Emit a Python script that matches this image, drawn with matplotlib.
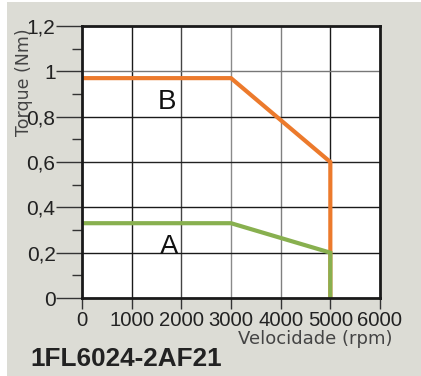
import matplotlib
matplotlib.use("Agg")
import matplotlib.pyplot as plt
from matplotlib.patches import Rectangle

# curve data
speed_b = [0, 3000, 5000, 5000]
torque_b = [0.97, 0.97, 0.6, 0.0]
speed_a = [0, 3000, 5000, 5000]
torque_a = [0.33, 0.33, 0.2, 0.0]

x_ticks = [0, 1000, 2000, 3000, 4000, 5000, 6000]
y_ticks = [0, 0.2, 0.4, 0.6, 0.8, 1.0, 1.2]
y_labels = ["0", "0,2", "0,4", "0,6", "0,8", "1", "1,2"]
y_minor = [0.1, 0.3, 0.5, 0.7, 0.9, 1.1]

orange = "#ec7a2c"
green = "#88b04f"
bg = "#dcdcd5"

fig = plt.figure(figsize=(4.21, 3.76), dpi=100, facecolor="white")
fig.patches.append(Rectangle((7 / 421, 0), 1, 1 - 2 / 376, transform=fig.transFigure,
                             facecolor=bg, edgecolor="none", zorder=-5))

ax = fig.add_axes([82 / 421, 1 - 298 / 376, 298 / 421, 272 / 376])
ax.set_zorder(2)
ax.set_facecolor("white")
ax.set_xlim(0, 6000)
ax.set_ylim(0, 1.2)

# grid lines, the picture mixes black and grey ones
vcols = {1000: "#1a1a1a", 2000: "#444444", 3000: "#8a8a8a", 4000: "#808080", 5000: "#1a1a1a"}
for xv, c in vcols.items():
    ax.axvline(xv, color=c, lw=1.0, zorder=1)
hcols = {0.2: "#1a1a1a", 0.4: "#1a1a1a", 0.6: "#222222", 0.8: "#1a1a1a", 1.0: "#777777"}
for yv, c in hcols.items():
    ax.axhline(yv, color=c, lw=1.0, zorder=1)

ax.plot(speed_b, torque_b, color=orange, lw=3.0, solid_capstyle="butt",
        solid_joinstyle="miter", zorder=3, clip_on=False)
ax.plot(speed_a, torque_a, color=green, lw=3.0, solid_capstyle="butt",
        solid_joinstyle="miter", zorder=4, clip_on=False)

ax.text(1710, 0.865, "B", fontsize=20, family="Liberation Sans", color="#111111",
        ha="center", va="center", zorder=5)
ax.text(1750, 0.225, "A", fontsize=20, family="Liberation Sans", color="#111111",
        ha="center", va="center", zorder=5)

for s in ax.spines.values():
    s.set_linewidth(2.0)
    s.set_color("#1a1a1a")
    s.set_zorder(6)

ax.set_xticks(x_ticks)
ax.set_xticklabels([str(v) for v in x_ticks], fontsize=14.6, family="Liberation Sans",
                   color="#222222")
ax.set_yticks(y_ticks)
ax.set_yticklabels(y_labels, fontsize=15, family="Liberation Sans", color="#222222")
ax.set_yticks(y_minor, minor=True)
ax.tick_params(axis="y", which="major", length=19, width=1.0, color="#333333", pad=0)
ax.tick_params(axis="y", which="minor", length=7, width=1.0, color="#333333")
ax.tick_params(axis="x", which="major", length=8, width=1.0, color="#333333", pad=1.5)

fig.text(315 / 421, 1 - 339 / 376, "Velocidade (rpm)", fontsize=13, family="DejaVu Sans",
         color="#444444", ha="center", va="center")
fig.text(24 / 421, 1 - 82 / 376, "Torque (Nm)", fontsize=12.5, family="DejaVu Sans",
         color="#444444", ha="center", va="center", rotation=90)
fig.text(30 / 421, 1 - 359 / 376, "1FL6024-2AF21", fontsize=18.8, family="Liberation Sans",
         weight="bold", color="#222222", ha="left", va="center")

fig.savefig("out.png", dpi=100, facecolor=fig.get_facecolor())
